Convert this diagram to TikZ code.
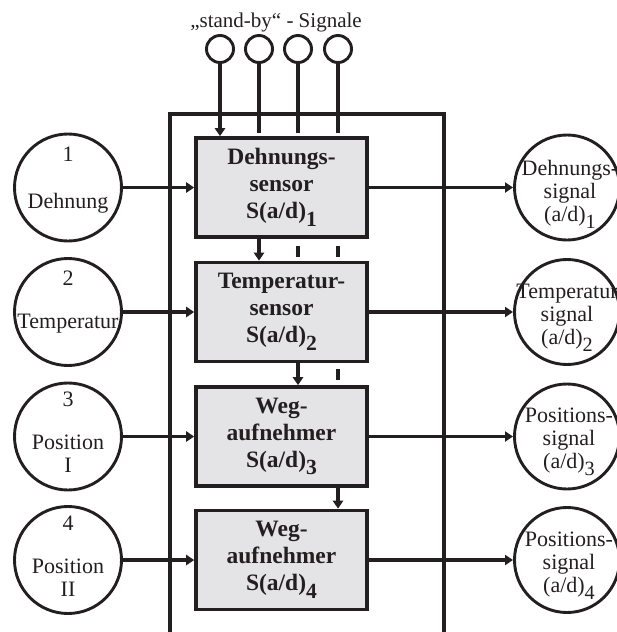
\documentclass[tikz,border=0pt]{standalone}
\usepackage{fontspec}
\setmainfont{Liberation Serif}
\usetikzlibrary{arrows.meta,calc}
\definecolor{ink}{HTML}{231F20}
\definecolor{boxgray}{HTML}{E4E4E6}
% lowered, slightly smaller index after S(a/d) and (a/d)
\newcommand\lowidx[1]{\raisebox{-0.32em}{\scalebox{0.92}{#1}}}

\begin{document}
\begin{tikzpicture}[x=1pt,y=-1pt,
  line/.style={draw=ink,line width=3.8pt},
  arr/.style={line,-{Triangle[length=8pt,width=10pt]}},
  sensorbox/.style={draw=ink,line width=3.6pt,fill=boxgray,minimum width=171pt,
    minimum height=99pt,inner sep=0pt,align=center,
    font=\fontsize{23.5}{27}\selectfont\bfseries,text=ink},
  incircle/.style={circle,draw=ink,line width=2.9pt,minimum size=107pt,inner sep=0pt},
  outcircle/.style={circle,draw=ink,line width=2.9pt,minimum size=105pt,inner sep=0pt},
  sbcircle/.style={circle,draw=ink,line width=2.9pt,minimum size=27pt,inner sep=0pt},
  ctext/.style={font=\fontsize{22}{23}\selectfont,text=ink,align=center,inner sep=0pt},
]
\useasboundingbox (0,0) rectangle (617,632);

% title and stand-by signal circles
\node[font=\fontsize{21}{23}\selectfont,text=ink,inner sep=0pt,anchor=base] (title) at (276,27) {„stand-by“ - Signale};
\node[sbcircle] (s1) at (220,49) {};
\node[sbcircle] (s2) at (259,49) {};
\node[sbcircle] (s3) at (298,49) {};
\node[sbcircle] (s4) at (338,49) {};

% open enclosure
\draw[line] (170,632) -- (170,114) -- (444,114) -- (444,632);

% sensor boxes
\node[sensorbox] (b1) at (281.5,187.5) {Dehnungs-\\sensor\\S(a/d)\lowidx{1}};
\node[sensorbox] (b2) at (281.5,312) {Temperatur-\\sensor\\S(a/d)\lowidx{2}};
\node[sensorbox] (b3) at (281.5,436.5) {Weg-\\aufnehmer\\S(a/d)\lowidx{3}};
\node[sensorbox] (b4) at (281.5,560) {Weg-\\aufnehmer\\S(a/d)\lowidx{4}};

% input circles
\node[incircle] (i1) at (68,187.5) {};
\node[incircle] (i2) at (68,312) {};
\node[incircle] (i3) at (68,436.5) {};
\node[incircle] (i4) at (68,560) {};
\node[ctext,anchor=base] (i1n) at (68,161) {1};
\node[ctext,anchor=base] (i1t) at (68,208) {Dehnung};
\node[ctext,anchor=base] (i2n) at (68,285) {2};
\node[ctext,anchor=base] (i2t) at (68,328) {Temperatur};
\node[ctext,anchor=base] (i3n) at (68,406) {3};
\node[ctext,anchor=base] (i3t) at (68,449) {Position};
\node[ctext,anchor=base] (i3r) at (68,472) {I};
\node[ctext,anchor=base] (i4n) at (68,530) {4};
\node[ctext,anchor=base] (i4t) at (68,573) {Position};
\node[ctext,anchor=base] (i4r) at (68,596) {II};

% output circles
\node[outcircle] (o1) at (567,187.5) {};
\node[outcircle] (o2) at (567,312) {};
\node[outcircle] (o3) at (567,436.5) {};
\node[outcircle] (o4) at (567,560) {};
\node[ctext] (o1t) at (570,194) {Dehnungs-\\signal\\(a/d)\lowidx{1}};
\node[ctext] (o2t) at (567,318) {Temperatur\\signal\\(a/d)\lowidx{2}};
\node[ctext] (o3t) at (569,442) {Positions-\\signal\\(a/d)\lowidx{3}};
\node[ctext] (o4t) at (569,566) {Positions-\\signal\\(a/d)\lowidx{4}};

% signal flow left to right
\foreach \k in {1,2,3,4}{
  \draw[arr] (i\k) -- (b\k);
  \draw[arr] (b\k) -- (o\k);
}

% stand-by lines into the first box
\draw[arr] (s1.south) -- (s1.south |- b1.north);
\foreach \k in {2,3,4}{
  \draw[line] (s\k.south) -- ($(s\k.south |- b1.north)+(0,-3)$);
}

% stand-by lines passing down between the boxes
\draw[arr] (s2.south |- b1.south) -- (s2.south |- b2.north);
\draw[line] ($(s3.south |- b1.south)+(0,7)$) -- ($(s3.south |- b2.north)+(0,-4)$);
\draw[line] ($(s4.south |- b1.south)+(0,7)$) -- ($(s4.south |- b2.north)+(0,-4)$);
\draw[arr] (s3.south |- b2.south) -- (s3.south |- b3.north);
\draw[line] ($(s4.south |- b2.south)+(0,6)$) -- ($(s4.south |- b3.north)+(0,-5)$);
\draw[arr] (s4.south |- b3.south) -- (s4.south |- b4.north);
\end{tikzpicture}
\end{document}
